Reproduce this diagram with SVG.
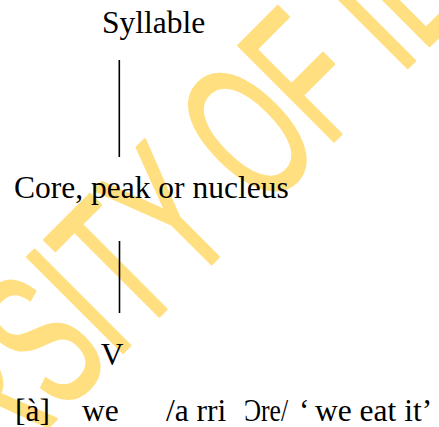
<svg xmlns="http://www.w3.org/2000/svg" width="439" height="427" viewBox="0 0 439 427">
  <style>
    .lbl { font-family: "Liberation Serif", "Times New Roman", serif; font-size: 31.5px; fill: #000; }
    .edge { stroke: #000; stroke-width: 1.6; fill: none; }
    .mark { font-family: "Liberation Sans", Arial, sans-serif; font-size: 196px; fill: #FFDF80; stroke: #FFDF80; stroke-width: 3; stroke-linejoin: round; }
  </style>
  <rect width="439" height="427" fill="#fff"/>

  <!-- background watermark -->
  <g id="watermark" transform="rotate(-45) scale(0.59,1)">
    <text class="mark" x="-1165" y="336">UNIVERSITY OF IBADAN</text>
  </g>

  <!-- tree edges -->
  <g id="connectors">
    <line class="edge" x1="119.3" y1="60" x2="119.3" y2="157"/>
    <line class="edge" x1="119.5" y1="241" x2="119.5" y2="313"/>
  </g>

  <g id="syllable">
    <text class="lbl" x="153.5" y="33" text-anchor="middle">Syllable</text>
  </g>

  <g id="core">
    <text class="lbl" x="14" y="197.5">Core, peak or nucleus</text>
  </g>

  <g id="vowel">
    <text class="lbl" x="112" y="365" text-anchor="middle">V</text>
  </g>

  <g id="example">
    <text class="lbl" x="15" y="421">[à]</text>
    <text class="lbl" x="82" y="421">we</text>
    <text class="lbl" x="166" y="421">/a rri</text>
    <text class="lbl" x="244" y="421" textLength="44" lengthAdjust="spacingAndGlyphs">Ɔre/</text>
    <text class="lbl" x="299" y="421">‘</text>
    <text class="lbl" x="315" y="421">we eat it’</text>
  </g>
</svg>
